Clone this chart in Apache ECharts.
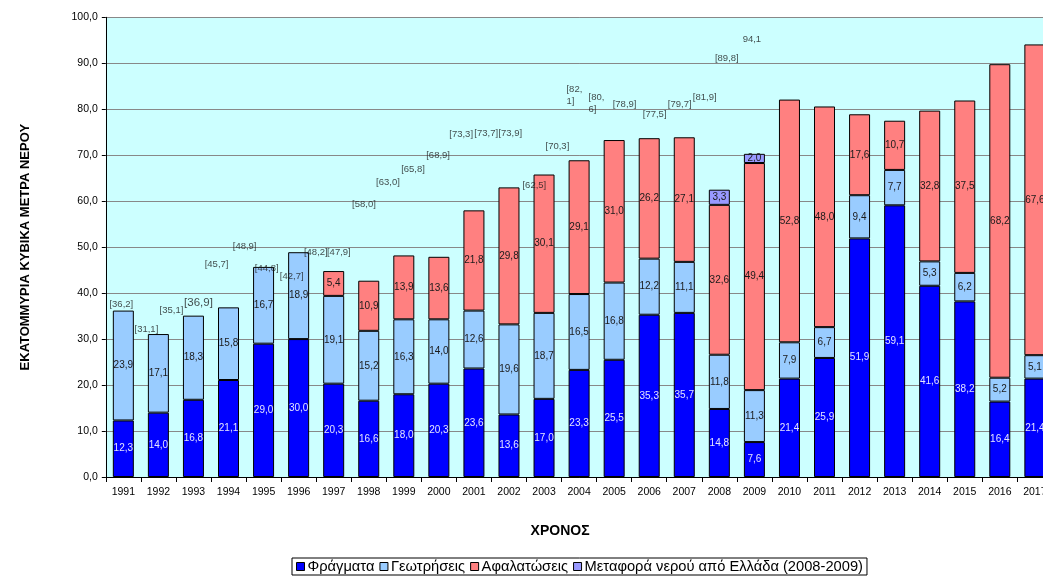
<!DOCTYPE html>
<html>
<head>
<meta charset="utf-8">
<script src="https://cdn.jsdelivr.net/npm/echarts@6/dist/echarts.min.js"></script>
<style>
  html, body { margin: 0; padding: 0; background: #ffffff; overflow: hidden; width: 1043px; height: 576px; }
  #chart { width: 1060px; height: 576px; }
</style>
</head>
<body>
<div id="chart"></div>
<script>
// Years on the category axis
const years = ['1991','1992','1993','1994','1995','1996','1997','1998','1999','2000',
  '2001','2002','2003','2004','2005','2006','2007','2008','2009','2010',
  '2011','2012','2013','2014','2015','2016','2017'];

// Water supply by source, million m³
const dams = [12.3,14.0,16.8,21.1,29.0,30.0,20.3,16.6,18.0,20.3,23.6,13.6,17.0,23.3,25.5,35.3,35.7,14.8,7.6,21.4,25.9,51.9,59.1,41.6,38.2,16.4,21.4];
const boreholes = [23.9,17.1,18.3,15.8,16.7,18.9,19.1,15.2,16.3,14.0,12.6,19.6,18.7,16.5,16.8,12.2,11.1,11.8,11.3,7.9,6.7,9.4,7.7,5.3,6.2,5.2,5.1];
const desalination = [null,null,null,null,null,null,5.4,10.9,13.9,13.6,21.8,29.8,30.1,29.1,31.0,26.2,27.1,32.6,49.4,52.8,48.0,17.6,10.7,32.8,37.5,68.2,67.6];
const transfer = [null,null,null,null,null,null,null,null,null,null,null,null,null,null,null,null,null,3.3,2.0,null,null,null,null,null,null,null,null];

// Yearly totals
const totals = [36.2,31.1,35.1,36.9,45.7,48.9,44.8,42.7,48.2,47.9,58.0,63.0,65.8,68.9,73.3,73.7,73.9,62.5,70.3,82.1,80.6,78.9,77.5,79.7,81.9,89.8,94.1];

// Pixel nudges of each total label away from the top of its bar [dx, dy]
const totalLabelShift = [[-2,-6],[-12,-5],[-22,-5],[-30,-5],[-47,-3],[-54,-6],[-67,-3],[-77,-4],[-88,-3],[-100,-4],
  [-110,-6],[-121,-5],[-131,-5],[-141,-5],[-153,-6],[-163,-5],[-174,-4],[-185,-4],[-197,-7],[-223,-4],
  [-236,-3],[-235,-10],[-240,-6],[-250,-6],[-260,-3],[-273,-6],[-283,-5]];
// Special label treatments
const totalLabelExtra = { '1994': { fontSize: 11.5 }, '2010': { wrap: true }, '2011': { wrap: true }, '2017': { bare: true } };

const FONT = '"Liberation Sans", Arial, Helvetica, sans-serif';
const fmt = v => v.toFixed(1).replace('.', ',');

const chart = echarts.init(document.getElementById('chart'), null, { renderer: 'canvas' });

function barSeries(name, data, color, labelColor) {
  return {
    name: name,
    type: 'bar',
    stack: 'total',
    data: data,
    barWidth: 21,
    itemStyle: { color: color, borderColor: '#000', borderWidth: 1 },
    label: {
      show: true,
      position: 'inside',
      fontFamily: FONT,
      fontSize: 10,
      color: labelColor,
      formatter: p => (p.value == null ? '' : fmt(p.value))
    },
    emphasis: { disabled: true }
  };
}

const totalData = totals.map((t, i) => {
  const ex = totalLabelExtra[years[i]] || {};
  const lab = { offset: totalLabelShift[i] };
  if (ex.fontSize) lab.fontSize = ex.fontSize;
  if (ex.wrap) { lab.align = 'left'; }
  return { value: t, label: lab };
});

const option = {
  backgroundColor: '#ffffff',
  animation: false,
  textStyle: { fontFamily: FONT },
  grid: {
    left: 105.8, width: 946.6, top: 17.3, bottom: 99,
    show: true, backgroundColor: '#CCFFFF', borderWidth: 0
  },
  legend: {
    data: ['Φράγματα', 'Γεωτρήσεις', 'Αφαλατώσεις', 'Μεταφορά νερού από Ελλάδα (2008-2009)'],
    left: 292, bottom: 1,
    icon: 'rect', itemWidth: 8, itemHeight: 8, itemGap: 5,
    borderColor: '#000', borderWidth: 1, padding: [1, 4, 1, 4],
    textStyle: { fontFamily: FONT, fontSize: 14.7, color: '#000', padding: [0, 0, 0, -2] },
    itemStyle: { borderColor: '#000', borderWidth: 1 }
  },
  xAxis: {
    type: 'category',
    data: years,
    name: 'ΧΡΟΝΟΣ',
    nameLocation: 'middle',
    nameGap: 47,
    nameTextStyle: { fontFamily: FONT, fontSize: 14, fontWeight: 'bold', color: '#000', padding: [0, 38, 0, 0] },
    axisLine: { lineStyle: { color: '#000', width: 1 } },
    axisTick: { show: true, length: 5, lineStyle: { color: '#000' } },
    axisLabel: { fontFamily: FONT, fontSize: 10.5, color: '#000', margin: 10, interval: 0 }
  },
  yAxis: {
    type: 'value',
    min: 0, max: 100, interval: 10,
    name: 'ΕΚΑΤΟΜΜΥΡΙΑ ΚΥΒΙΚΑ ΜΕΤΡΑ ΝΕΡΟΥ',
    nameLocation: 'middle',
    nameGap: 74,
    nameTextStyle: { fontFamily: FONT, fontSize: 13, fontWeight: 'bold', color: '#000' },
    axisLine: { show: true, lineStyle: { color: '#000', width: 1 } },
    axisTick: { show: true, length: 4, lineStyle: { color: '#000' } },
    axisLabel: { fontFamily: FONT, fontSize: 10.5, color: '#000', margin: 8, formatter: v => fmt(v) },
    splitLine: { show: true, lineStyle: { color: '#888888', width: 1 } }
  },
  series: [
    barSeries('Φράγματα', dams, '#0000FF', '#E4E4FF'),
    barSeries('Γεωτρήσεις', boreholes, '#99CCFF', '#1a1a1a'),
    barSeries('Αφαλατώσεις', desalination, '#FF8080', '#1a1a1a'),
    barSeries('Μεταφορά νερού από Ελλάδα (2008-2009)', transfer, '#9999FF', '#1a1a1a'),
    {
      name: 'Σύνολο',
      type: 'scatter',
      data: totalData,
      symbol: 'circle',
      symbolSize: 1,
      z: 5,
      silent: true,
      itemStyle: { color: 'rgba(0,0,0,0)' },
      label: {
        show: true,
        position: 'inside',
        fontFamily: FONT,
        fontSize: 9.5,
        lineHeight: 12,
        color: '#1a1a1a',
        formatter: p => {
          const ex = totalLabelExtra[years[p.dataIndex]] || {};
          const s = fmt(p.value);
          if (ex.bare) return s;
          if (ex.wrap) return '[' + s.replace(',', ',\n') + ']';
          return '[' + s + ']';
        }
      },
      emphasis: { disabled: true }
    }
  ]
};

chart.setOption(option);
</script>
</body>
</html>
